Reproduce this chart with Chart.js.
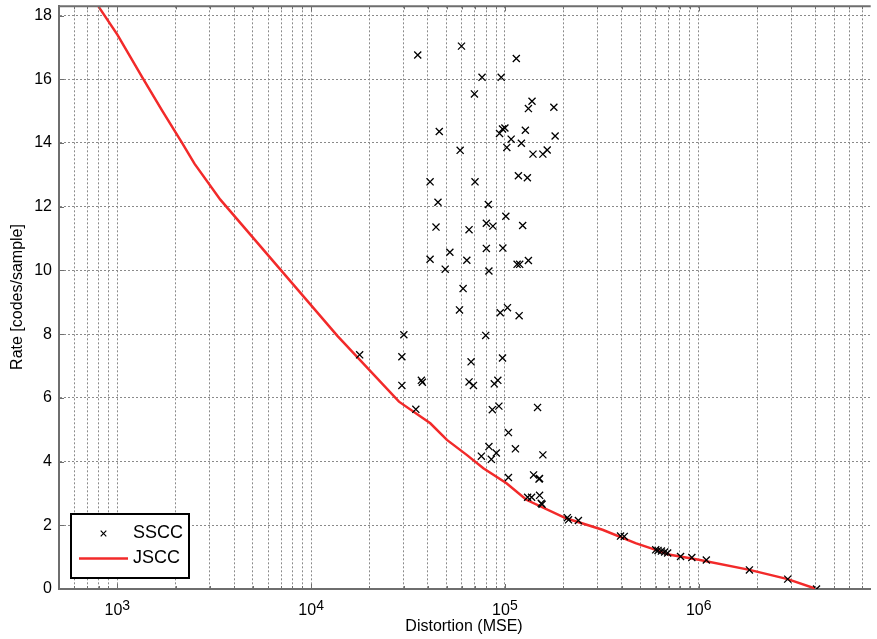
<!DOCTYPE html>
<html>
<head>
<meta charset="utf-8">
<script src="https://cdn.jsdelivr.net/npm/chart.js@4/dist/chart.umd.min.js"></script>
<style>
html, body { margin: 0; padding: 0; background: #fff; }
canvas { display: block; }
</style>
</head>
<body>
<canvas id="c" width="877" height="639"></canvas>
<script>
// ---- data ----
const seriesNames = ['SSCC', 'JSCC'];
const xTitle = 'Distortion (MSE)';
const yTitle = 'Rate [codes/sample]';
const yTickValues = [0, 2, 4, 6, 8, 10, 12, 14, 16, 18];
const xTickExponents = [3, 4, 5, 6];
const xRange = [500, 7.72e6];
const yRange = [0, 18.29];

const ssccX = [35500, 59700, 114500, 76200, 95700, 69600, 138000, 132200, 178900, 45850,
  93800, 100000, 97200, 127500, 181600, 107700, 121600, 102300, 58750, 139600,
  157000, 165300, 117400, 130600, 41100, 70100, 45150, 82100, 101100, 123500,
  44100, 65300, 80200, 86700, 80200, 97600, 52000, 41100, 63600, 49200,
  82700, 115600, 119200, 132200, 60850, 58300, 94600, 103100, 118400, 30100,
  79600, 17800, 29400, 66900, 97200, 29400, 37060, 37500, 65300, 68800,
  88150, 91950, 34700, 86100, 93100, 147400, 104300, 113300, 82700, 90300,
  75600, 85100, 157000, 104300, 140600, 151000, 150000, 131000, 137300, 151000,
  154000, 155500, 210000, 213000, 239500, 395000, 413000, 600000, 617000, 642000,
  667400, 691400, 806000, 921700, 1095000, 1827000, 2880000, 4055000];
const ssccY = [16.76, 17.04, 16.65, 16.06, 16.06, 15.54, 15.31, 15.08, 15.12, 14.36,
  14.30, 14.47, 14.44, 14.40, 14.22, 14.12, 13.99, 13.86, 13.77, 13.65,
  13.65, 13.78, 12.97, 12.91, 12.78, 12.78, 12.14, 12.07, 11.70, 11.41,
  11.36, 11.28, 11.48, 11.39, 10.69, 10.70, 10.57, 10.35, 10.32, 10.04,
  9.98, 10.19, 10.19, 10.31, 9.43, 8.76, 8.67, 8.83, 8.58, 7.98,
  7.96, 7.35, 7.29, 7.13, 7.25, 6.39, 6.55, 6.49, 6.50, 6.39,
  6.44, 6.55, 5.64, 5.63, 5.74, 5.70, 4.91, 4.40, 4.47, 4.27,
  4.17, 4.07, 4.21, 3.50, 3.58, 3.47, 3.45, 2.88, 2.88, 2.94,
  2.69, 2.66, 2.24, 2.17, 2.15, 1.66, 1.65, 1.23, 1.21, 1.19,
  1.16, 1.13, 1.02, 0.99, 0.91, 0.60, 0.31, 0.00];

const jsccX = [800, 1000, 1350, 1700, 2150, 2500, 3400, 7000, 13700, 28400,
  41200, 50200, 63500, 77400, 101900, 129000, 206800, 318900, 472000, 600000,
  700000, 1000000, 1830000, 2880000, 4055000];
const jsccY = [18.28, 17.40, 16.04, 15.02, 14.02, 13.35, 12.22, 10.00, 7.94, 5.88,
  5.20, 4.68, 4.21, 3.79, 3.32, 2.80, 2.22, 1.86, 1.44, 1.23,
  1.08, 0.92, 0.60, 0.31, 0.00];

// ---- styling ----
const FONT = '"Liberation Sans", Arial, Helvetica, sans-serif';
const FRAME = '#6e6e6e';
const GRID = '#8a8a8a';
const RED = '#f22a2a';

Chart.defaults.font.family = FONT;
Chart.defaults.color = '#000';

const xTicksList = [];
for (let e = 2; e <= 6; e++) {
  for (let m = 1; m <= 9; m++) {
    const v = m * Math.pow(10, e);
    if (v >= xRange[0] && v <= xRange[1]) xTicksList.push(v);
  }
}

const framePlugin = {
  id: 'frame',
  afterDraw(chart) {
    const ctx = chart.ctx;
    const a = chart.chartArea;
    const xs = chart.scales.x, ys = chart.scales.y;
    ctx.save();
    // top border
    ctx.strokeStyle = FRAME;
    ctx.lineWidth = 2;
    ctx.beginPath();
    ctx.moveTo(a.left, a.top);
    ctx.lineTo(a.right, a.top);
    ctx.stroke();
    // inside tick marks
    ctx.lineWidth = 1;
    ctx.beginPath();
    xs.ticks.forEach(t => {
      const px = Math.round(xs.getPixelForValue(t.value)) + 0.5;
      const isMaj = Math.abs(Math.log10(t.value) - Math.round(Math.log10(t.value))) < 1e-9;
      const len = isMaj ? 5 : 3;
      ctx.moveTo(px, a.bottom); ctx.lineTo(px, a.bottom - len);
      ctx.moveTo(px, a.top); ctx.lineTo(px, a.top + len);
    });
    ys.ticks.forEach(t => {
      const py = Math.round(ys.getPixelForValue(t.value)) + 0.5;
      ctx.moveTo(a.left, py); ctx.lineTo(a.left + 5, py);
    });
    ctx.stroke();

    // x tick labels with superscript exponents
    ctx.fillStyle = '#000';
    ctx.textBaseline = 'alphabetic';
    ctx.textAlign = 'left';
    xTickExponents.forEach(e => {
      const px = xs.getPixelForValue(Math.pow(10, e));
      ctx.font = '16px ' + FONT;
      const wb = ctx.measureText('10').width;
      ctx.font = '14px ' + FONT;
      const ws = ctx.measureText(String(e)).width;
      const start = px - (wb + ws) / 2;
      ctx.font = '16px ' + FONT;
      ctx.fillText('10', start, a.bottom + 26);
      ctx.font = '14px ' + FONT;
      ctx.fillText(String(e), start + wb, a.bottom + 21);
    });

    // axis titles
    ctx.font = '16px ' + FONT;
    ctx.textAlign = 'center';
    ctx.textBaseline = 'middle';
    ctx.fillText(xTitle, 464, 627);
    ctx.save();
    ctx.translate(18, 297);
    ctx.rotate(-Math.PI / 2);
    ctx.fillText(yTitle, 0, 0);
    ctx.restore();

    // legend box
    const lx = 71, ly = 514, lw = 118, lh = 64;
    ctx.fillStyle = '#fff';
    ctx.fillRect(lx, ly, lw, lh);
    ctx.strokeStyle = '#000';
    ctx.lineWidth = 2;
    ctx.strokeRect(lx, ly, lw, lh);
    // SSCC entry
    ctx.lineWidth = 1.2;
    ctx.beginPath();
    const mx = 103.5, my = 533.5, r = 2.8;
    ctx.moveTo(mx - r, my - r); ctx.lineTo(mx + r, my + r);
    ctx.moveTo(mx - r, my + r); ctx.lineTo(mx + r, my - r);
    ctx.stroke();
    // JSCC entry
    ctx.strokeStyle = RED;
    ctx.lineWidth = 2.5;
    ctx.beginPath();
    ctx.moveTo(79, 558.5); ctx.lineTo(128, 558.5);
    ctx.stroke();
    ctx.fillStyle = '#000';
    ctx.font = '18px ' + FONT;
    ctx.textAlign = 'left';
    ctx.textBaseline = 'middle';
    ctx.fillText(seriesNames[0], 133, 533.5);
    ctx.fillText(seriesNames[1], 133, 558.5);
    ctx.restore();
  }
};

new Chart(document.getElementById('c'), {
  type: 'scatter',
  data: {
    datasets: [
      {
        label: seriesNames[0],
        data: ssccX.map((x, i) => ({ x: x, y: ssccY[i] })),
        showLine: false,
        pointStyle: 'crossRot',
        pointRadius: 5,
        pointBorderWidth: 1.3,
        borderColor: '#000',
        backgroundColor: '#000',
        order: 0
      },
      {
        label: seriesNames[1],
        data: jsccX.map((x, i) => ({ x: x, y: jsccY[i] })),
        showLine: true,
        pointRadius: 0,
        borderColor: RED,
        backgroundColor: RED,
        borderWidth: 2.5,
        tension: 0,
        fill: false,
        order: 1
      }
    ]
  },
  options: {
    responsive: false,
    animation: false,
    devicePixelRatio: 1,
    layout: { padding: { top: 5, right: 0, left: 0, bottom: 0 } },
    plugins: { legend: { display: false }, tooltip: { enabled: false } },
    scales: {
      x: {
        type: 'logarithmic',
        min: xRange[0],
        max: xRange[1],
        afterBuildTicks(s) { s.ticks = xTicksList.map(v => ({ value: v })); },
        afterFit(s) { s.height = 50; s.paddingLeft = 0; s.paddingRight = 0; s.paddingTop = 0; s.paddingBottom = 0; },
        ticks: { display: false, autoSkip: false },
        grid: { color: GRID, lineWidth: 1, drawTicks: false },
        border: { display: true, color: FRAME, width: 2, dash: [2, 2] }
      },
      y: {
        type: 'linear',
        min: yRange[0],
        max: yRange[1],
        afterBuildTicks(s) { s.ticks = yTickValues.map(v => ({ value: v })); },
        afterFit(s) { s.width = 59; s.paddingLeft = 0; s.paddingRight = 0; s.paddingTop = 0; s.paddingBottom = 0; },
        ticks: { font: { size: 16 }, padding: 7, color: '#000', autoSkip: false },
        grid: { color: GRID, lineWidth: 1, drawTicks: false },
        border: { display: true, color: FRAME, width: 2, dash: [2, 2] }
      }
    }
  },
  plugins: [framePlugin]
});
</script>
</body>
</html>
